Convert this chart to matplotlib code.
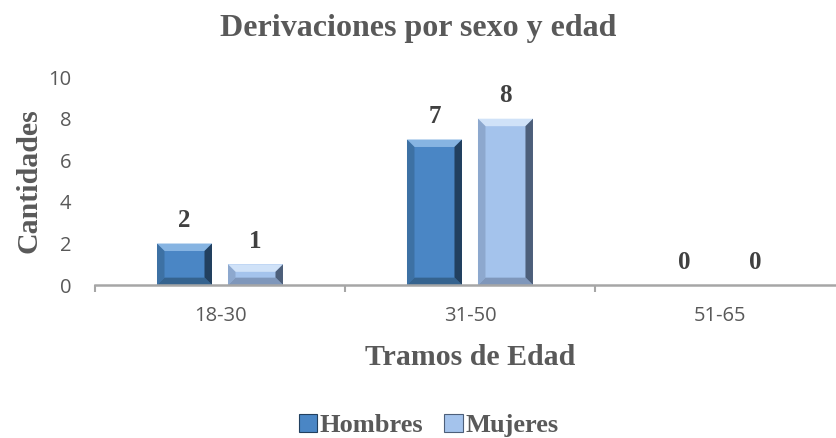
import matplotlib
matplotlib.use("Agg")
import matplotlib.pyplot as plt
from matplotlib.patches import Polygon, Patch
import numpy as np

# data
tramos = ["18-30", "31-50", "51-65"]
hombres = [2, 7, 0]
mujeres = [1, 8, 0]
series_names = ["Hombres", "Mujeres"]

face_cols = ["#4a86c5", "#a4c3ec"]
light_cols = ["#86b4e2", "#d0e2f8"]
dark_cols = ["#22405f", "#4d5f7a"]
side_cols = ["#35638f", "#7f97bb"]
gray_txt = "#595959"
serif = ["Liberation Serif", "DejaVu Serif"]
sans = ["Open Sans", "DejaVu Sans"]

fig = plt.figure(figsize=(8.37, 4.38), dpi=100)
ax = fig.add_axes([0.1135, 0.349, 0.896, 0.475])

x = np.arange(len(tramos))
w = 0.22
offsets = [-0.142, 0.142]
bw_x = 0.03  # bevel width (data x)
bw_y = 0.36  # bevel height (data y)


def bevel_bar(ax, xc, h, k):
    if h <= 0:
        return
    x0, x1 = xc - w / 2, xc + w / 2
    by = min(bw_y, h / 2)
    ax.bar(xc, h, w, color=face_cols[k], edgecolor="none", zorder=2)
    # top, right, bottom, left bevels
    ax.add_patch(Polygon([(x0, h), (x1, h), (x1 - bw_x, h - by), (x0 + bw_x, h - by)],
                         closed=True, fc=light_cols[k], ec="none", zorder=3))
    ax.add_patch(Polygon([(x1, h), (x1, 0), (x1 - bw_x, by), (x1 - bw_x, h - by)],
                         closed=True, fc=dark_cols[k], ec="none", zorder=3))
    ax.add_patch(Polygon([(x0, 0), (x1, 0), (x1 - bw_x, by), (x0 + bw_x, by)],
                         closed=True, fc=side_cols[k], ec="none", zorder=3))
    ax.add_patch(Polygon([(x0, 0), (x0, h), (x0 + bw_x, h - by), (x0 + bw_x, by)],
                         closed=True, fc=side_cols[k], ec="none", alpha=0.6, zorder=3))


for k, vals in enumerate([hombres, mujeres]):
    for i, v in enumerate(vals):
        xc = x[i] + offsets[k]
        bevel_bar(ax, xc, v, k)
        ax.text(xc, v + 0.55, str(v), ha="center", va="bottom", fontsize=18,
                fontweight="bold", family=serif, color="#404040")

ax.set_xlim(-0.5, 2.5)
ax.set_ylim(0, 10)
ax.set_yticks(np.arange(0, 11, 2))
ax.set_xticks(x)
ax.set_xticklabels(tramos)
ax.set_xticks([-0.5, 0.5, 1.5, 2.5], minor=True)

for s in ["top", "right", "left"]:
    ax.spines[s].set_visible(False)
ax.spines["bottom"].set_color("#a6a6a6")
ax.spines["bottom"].set_linewidth(1.8)
ax.spines["bottom"].set_zorder(4)

ax.tick_params(axis="y", length=0, pad=17, labelsize=14.5, labelcolor=gray_txt)
ax.tick_params(axis="x", which="major", length=0, pad=15, labelsize=14.5, labelcolor=gray_txt)
ax.tick_params(axis="x", which="minor", length=5, width=1.5, color="#a6a6a6")
for lbl in ax.get_xticklabels() + ax.get_yticklabels():
    lbl.set_family(sans)

ax.set_xlabel("Tramos de Edad", fontsize=21.5, fontweight="bold", family=serif,
              color=gray_txt, labelpad=13)
ax.set_ylabel("Cantidades", fontsize=21.5, fontweight="bold", family=serif,
              color=gray_txt, labelpad=4)

fig.text(0.5, 0.936, "Derivaciones por sexo y edad", ha="center", va="center",
         fontsize=23, fontweight="bold", family=serif, color=gray_txt)

handles = [Patch(facecolor=face_cols[k], edgecolor=dark_cols[k], lw=0.8) for k in range(2)]
leg = fig.legend(handles, series_names, loc="center", bbox_to_anchor=(0.512, 0.028),
                 ncol=2, frameon=False, handlelength=0.7, handleheight=0.7,
                 handletextpad=0.1, columnspacing=0.8,
                 prop={"family": serif, "weight": "bold", "size": 19})
for t in leg.get_texts():
    t.set_color(gray_txt)

fig.savefig("out.png", dpi=100)
